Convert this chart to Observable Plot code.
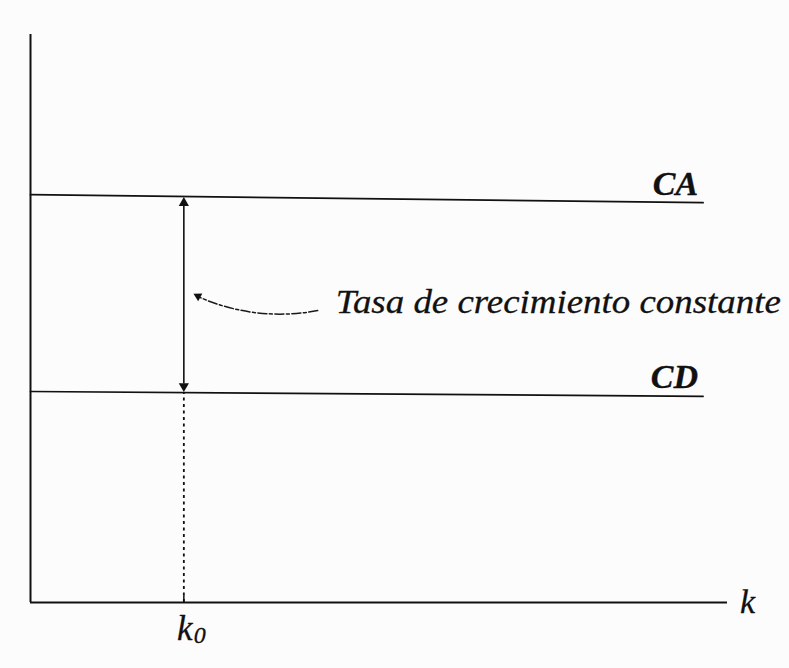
<!DOCTYPE html>
<html>
<head>
<meta charset="utf-8">
<script src="https://cdn.jsdelivr.net/npm/d3@7"></script>
<script src="https://cdn.jsdelivr.net/npm/@observablehq/plot@0.6"></script>
<style>
  html, body { margin: 0; padding: 0; background: #ffffff; }
  #chart svg { display: block; }
  #chart svg text { font-family: "Liberation Serif", "Times New Roman", serif; }
</style>
</head>
<body>
<div id="chart"></div>
<script>
// ---- data ----
const curveNames = ["CA", "CD"];
const curveK = [0, 9.65];                 // k extent of both horizontal curves
const caLevel = [7.18, 7.04];             // CA level at the two ends
const cdLevel = [3.715, 3.63];            // CD level at the two ends
const k0 = 2.2;                           // marked capital stock
const axisTop = 10;                       // top of vertical axis
const axisRight = 10;                     // end of horizontal axis
const xAxisLabel = "k";
const k0Label = ["k", "0"];
const annotation = "Tasa de crecimiento constante";
const annotationAt = [4.38, 5.09];        // start of annotation text
const pointerFrom = [4.12, 5.14];
const pointerTo = [2.36, 5.41];

const interp = (lv, k) => lv[0] + (lv[1] - lv[0]) * (k - curveK[0]) / (curveK[1] - curveK[0]);
const caAtK0 = interp(caLevel, k0);
const cdAtK0 = interp(cdLevel, k0);

const curves = [
  {name: curveNames[0], k: curveK[0], v: caLevel[0]},
  {name: curveNames[0], k: curveK[1], v: caLevel[1]},
  {name: curveNames[1], k: curveK[0], v: cdLevel[0]},
  {name: curveNames[1], k: curveK[1], v: cdLevel[1]}
];
const curveEnds = [
  {name: curveNames[0], k: curveK[1], v: caLevel[1]},
  {name: curveNames[1], k: curveK[1], v: cdLevel[1]}
];

const serif = "Liberation Serif";
const ink = "#111";
const textStyle = {fontFamily: serif, fill: ink, stroke: ink, strokeWidth: 0.3};

const chart = Plot.plot({
  width: 789,
  height: 668,
  marginLeft: 30,
  marginRight: 62,
  marginTop: 34,
  marginBottom: 66,
  style: {background: "#fcfcfc", fontFamily: serif, color: ink},
  x: {domain: [0, axisRight], axis: null},
  y: {domain: [0, axisTop], axis: null},
  marks: [
    // axes
    Plot.ruleX([0], {y1: 0, y2: axisTop, stroke: ink, strokeWidth: 2}),
    Plot.ruleY([0], {x1: 0, x2: axisRight, stroke: ink, strokeWidth: 2.2}),
    // horizontal curves CA and CD
    Plot.line(curves, {x: "k", y: "v", z: "name", stroke: ink, strokeWidth: 1.7}),
    Plot.text(curveEnds, {x: "k", y: "v", text: "name", textAnchor: "end", lineAnchor: "bottom",
      dx: -5, dy: -8, fontSize: 34, fontWeight: "bold", fontStyle: "italic", ...textStyle}),
    // dotted drop line from CD to the axis
    Plot.ruleX([k0], {y1: 0, y2: cdAtK0, stroke: ink, strokeWidth: 1.8, strokeDasharray: "3,3.5"}),
    Plot.ruleX([k0], {y1: 0, y2: 0.12, stroke: ink, strokeWidth: 1.5}),
    // double-headed arrow between CD and CA
    Plot.ruleX([k0], {y1: cdAtK0 + 0.15, y2: caAtK0 - 0.15, stroke: ink, strokeWidth: 1.6}),
    Plot.dot([{k: k0, v: caAtK0}], {x: "k", y: "v", symbol: "triangle", r: 3.8, dy: 6.5, fill: ink, stroke: "none"}),
    Plot.dot([{k: k0, v: cdAtK0}], {x: "k", y: "v", symbol: "triangle", r: 3.8, dy: -6.5, rotate: 180, fill: ink, stroke: "none"}),
    // curved pointer to the arrow
    Plot.arrow([{x1: pointerFrom[0], y1: pointerFrom[1], x2: pointerTo[0], y2: pointerTo[1]}], {
      x1: "x1", y1: "y1", x2: "x2", y2: "y2", bend: 18, headLength: 0, insetEnd: 3,
      stroke: "#1a1a1a", strokeWidth: 1.5, strokeDasharray: "9,2.5,3,2.5"}),
    Plot.dot([{k: pointerTo[0], v: pointerTo[1]}], {x: "k", y: "v", symbol: "triangle", r: 3.3,
      rotate: -62, dx: 3, dy: 1, fill: ink, stroke: "none"}),
    Plot.text([annotation], {x: annotationAt[0], y: annotationAt[1], text: d => d, textAnchor: "start",
      lineAnchor: "bottom", fontSize: 34, fontStyle: "italic", ...textStyle}),
    // axis labels
    Plot.text([xAxisLabel], {x: axisRight, y: 0, text: d => d, dx: 20, textAnchor: "middle",
      fontSize: 34, fontStyle: "italic", ...textStyle}),
    Plot.text([k0Label[0]], {x: k0, y: 0, text: d => d, dx: 1, dy: 37, textAnchor: "middle",
      lineAnchor: "bottom", fontSize: 35, fontStyle: "italic", ...textStyle}),
    Plot.text([k0Label[1]], {x: k0, y: 0, text: d => d, dx: 16, dy: 40, textAnchor: "middle",
      lineAnchor: "bottom", fontSize: 24, fontStyle: "italic", ...textStyle})
  ]
});

const annoText = d3.select(chart).selectAll("text").filter(function() { return this.textContent === annotation; });
// stretch annotation glyphs horizontally to the reference's width
annoText.attr("textLength", 445).attr("lengthAdjust", "spacingAndGlyphs");
document.getElementById("chart").appendChild(chart);
</script>
</body>
</html>
